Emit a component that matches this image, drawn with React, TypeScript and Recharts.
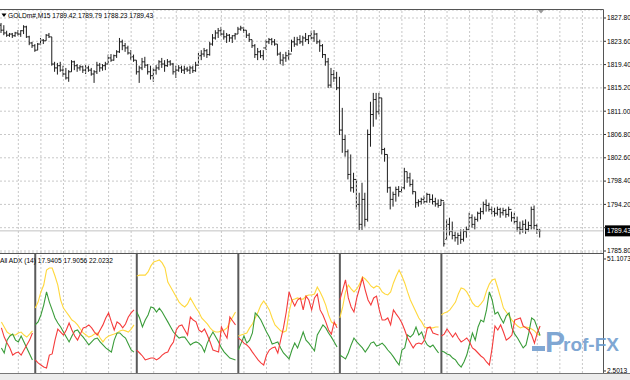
import React from 'react';
import { ComposedChart, LineChart, Bar, Line, XAxis, YAxis, CartesianGrid, ReferenceLine } from 'recharts';

// GOLDm# M15 bars, oldest first
const opens = [
  1826.5, 1825.6, 1825.1, 1824.7, 1824.9, 1824.6, 1825.1, 1824.9, 1825.5, 1826.2, 1824.4, 1823.3,
  1822.8, 1822.0, 1823.1, 1823.8, 1823.7, 1824.7, 1824.4, 1819.5, 1818.8, 1819.2, 1818.4, 1817.7,
  1817.0, 1818.1, 1819.9, 1819.2, 1818.8, 1819.0, 1818.4, 1818.8, 1818.4, 1817.7, 1818.1, 1819.3,
  1818.8, 1819.2, 1819.5, 1820.6, 1820.2, 1821.0, 1821.7, 1823.5, 1822.8, 1822.4, 1821.5, 1820.8,
  1820.2, 1818.1, 1818.8, 1819.9, 1819.3, 1818.1, 1817.4, 1818.4, 1818.8, 1819.9, 1819.5, 1819.2,
  1819.9, 1819.5, 1818.1, 1818.4, 1818.8, 1818.4, 1818.6, 1818.4, 1818.8, 1818.3, 1819.3, 1821.0,
  1821.3, 1821.9, 1821.2, 1823.1, 1824.2, 1825.1, 1825.5, 1824.9, 1824.4, 1824.7, 1824.2, 1824.6,
  1824.9, 1825.8, 1826.0, 1825.6, 1824.7, 1823.9, 1822.8, 1821.2, 1821.7, 1821.0, 1822.4, 1823.5,
  1823.9, 1823.5, 1823.1, 1821.3, 1820.2, 1820.6, 1821.0, 1821.3, 1823.5, 1823.1, 1823.9, 1823.5,
  1824.2, 1823.9, 1824.6, 1824.2, 1824.9, 1823.5, 1822.8, 1821.2, 1819.9, 1815.7, 1817.6, 1817.0,
  1815.2, 1807.6, 1805.9, 1803.7, 1799.6, 1797.2, 1798.7, 1794.2, 1790.6, 1795.1, 1791.5, 1806.8,
  1810.4, 1813.1, 1810.9, 1813.4, 1804.1, 1803.2, 1797.2, 1795.1, 1796.0, 1796.9, 1796.5, 1797.2,
  1800.1, 1799.0, 1797.8, 1796.5, 1794.5, 1794.7, 1795.1, 1794.7, 1796.0, 1795.1, 1794.7, 1794.3,
  1794.0, 1794.9, 1787.9, 1790.6, 1789.3, 1788.6, 1788.2, 1788.6, 1787.9, 1789.3, 1789.7, 1791.8,
  1790.6, 1791.5, 1792.6, 1792.9, 1794.2, 1794.0, 1793.3, 1792.9, 1792.6, 1793.3, 1792.7, 1793.1,
  1792.4, 1793.3, 1791.8, 1791.1, 1790.0, 1789.7, 1790.6, 1789.7, 1790.4, 1793.3, 1790.4, 1789.42,
];
const highs = [
  1826.9, 1826.5, 1825.5, 1825.1, 1825.1, 1825.3, 1825.6, 1825.6, 1826.5, 1826.4, 1824.6, 1823.5,
  1823.1, 1823.3, 1824.2, 1824.0, 1824.9, 1825.1, 1824.4, 1819.9, 1819.7, 1819.9, 1819.2, 1818.8,
  1818.4, 1820.2, 1820.1, 1819.5, 1819.3, 1819.2, 1819.3, 1819.2, 1818.8, 1818.4, 1819.9, 1819.7,
  1819.5, 1819.9, 1821.2, 1821.3, 1821.2, 1822.0, 1824.2, 1823.9, 1823.3, 1822.8, 1822.0, 1821.2,
  1820.2, 1819.2, 1820.6, 1820.8, 1819.5, 1819.2, 1818.8, 1819.3, 1820.2, 1820.6, 1820.2, 1820.4,
  1820.2, 1819.7, 1819.2, 1819.3, 1819.2, 1819.2, 1819.0, 1819.2, 1819.2, 1819.9, 1821.5, 1822.0,
  1822.4, 1822.2, 1823.5, 1824.9, 1825.6, 1826.0, 1826.2, 1825.6, 1825.1, 1824.9, 1824.7, 1825.1,
  1826.2, 1826.4, 1826.2, 1825.6, 1825.1, 1823.9, 1823.1, 1822.4, 1822.0, 1822.0, 1823.9, 1824.2,
  1824.2, 1824.0, 1823.1, 1821.7, 1821.3, 1821.7, 1822.0, 1823.9, 1824.4, 1824.4, 1824.7, 1824.6,
  1825.1, 1824.7, 1825.5, 1825.6, 1825.1, 1823.9, 1823.1, 1821.3, 1820.6, 1818.8, 1818.4, 1818.1,
  1817.2, 1811.6, 1806.7, 1804.1, 1803.2, 1799.9, 1798.7, 1796.3, 1798.1, 1796.3, 1807.7, 1812.7,
  1814.3, 1814.3, 1814.3, 1813.4, 1804.4, 1803.2, 1797.4, 1796.5, 1797.4, 1797.5, 1797.4, 1800.8,
  1800.1, 1799.9, 1798.7, 1796.5, 1795.1, 1795.4, 1795.8, 1796.3, 1796.1, 1796.0, 1795.4, 1795.1,
  1795.2, 1794.7, 1791.5, 1791.8, 1791.1, 1789.3, 1789.1, 1789.7, 1789.7, 1790.2, 1792.7, 1792.4,
  1792.0, 1792.9, 1793.6, 1794.7, 1795.1, 1794.5, 1793.8, 1793.6, 1793.8, 1793.6, 1793.6, 1793.4,
  1793.8, 1792.9, 1792.7, 1792.0, 1791.1, 1791.3, 1791.5, 1791.1, 1793.8, 1794.0, 1790.7, 1789.79,
];
const lows = [
  1825.1, 1824.7, 1824.4, 1824.4, 1824.2, 1824.4, 1824.6, 1824.4, 1824.9, 1824.2, 1822.9, 1822.4,
  1821.7, 1822.0, 1822.9, 1823.1, 1823.7, 1824.2, 1819.2, 1818.1, 1817.6, 1818.1, 1817.2, 1816.7,
  1816.3, 1818.1, 1818.4, 1818.1, 1818.3, 1817.9, 1817.7, 1818.1, 1817.4, 1816.1, 1817.7, 1818.1,
  1818.3, 1818.4, 1819.5, 1819.9, 1820.1, 1820.6, 1821.5, 1822.0, 1821.7, 1821.2, 1820.2, 1819.9,
  1817.6, 1816.1, 1818.4, 1818.8, 1817.6, 1816.7, 1816.3, 1817.6, 1818.4, 1818.8, 1818.1, 1819.0,
  1819.2, 1817.6, 1817.0, 1818.1, 1817.9, 1817.7, 1818.1, 1817.7, 1817.9, 1818.1, 1819.2, 1820.2,
  1820.8, 1820.6, 1821.0, 1822.8, 1823.9, 1824.2, 1824.6, 1823.9, 1823.3, 1823.5, 1823.3, 1823.9,
  1824.9, 1825.5, 1825.1, 1824.2, 1823.5, 1822.4, 1820.6, 1820.2, 1820.6, 1820.2, 1822.0, 1823.1,
  1822.9, 1822.8, 1821.0, 1819.5, 1819.2, 1819.9, 1820.2, 1821.7, 1822.6, 1822.8, 1823.1, 1822.8,
  1823.5, 1823.1, 1823.9, 1823.5, 1823.1, 1821.7, 1820.6, 1819.2, 1815.2, 1815.2, 1816.3, 1814.8,
  1806.7, 1803.5, 1802.8, 1798.7, 1796.5, 1796.3, 1793.3, 1789.6, 1789.6, 1790.2, 1791.1, 1804.6,
  1808.2, 1809.5, 1810.4, 1803.2, 1801.9, 1796.3, 1793.3, 1793.8, 1794.7, 1795.6, 1796.3, 1796.9,
  1798.1, 1797.4, 1796.0, 1793.6, 1793.8, 1794.2, 1794.3, 1794.5, 1794.5, 1794.2, 1793.8, 1793.6,
  1794.0, 1786.6, 1787.9, 1788.6, 1787.9, 1787.5, 1786.9, 1787.1, 1787.5, 1788.2, 1789.7, 1790.0,
  1789.7, 1791.1, 1791.5, 1792.4, 1792.9, 1792.9, 1792.4, 1792.0, 1792.2, 1791.8, 1792.2, 1791.8,
  1792.0, 1791.1, 1790.6, 1789.3, 1788.8, 1789.1, 1788.9, 1789.3, 1789.7, 1789.7, 1788.9, 1788.23,
];
const closes = [
  1825.6, 1825.1, 1824.7, 1824.9, 1824.6, 1825.1, 1824.9, 1825.5, 1826.2, 1824.4, 1823.3, 1822.8,
  1822.0, 1823.1, 1823.8, 1823.7, 1824.7, 1824.4, 1819.5, 1818.8, 1819.2, 1818.4, 1817.7, 1817.0,
  1818.1, 1819.9, 1819.2, 1818.8, 1819.0, 1818.4, 1818.8, 1818.4, 1817.7, 1818.1, 1819.3, 1818.8,
  1819.2, 1819.5, 1820.6, 1820.2, 1821.0, 1821.7, 1823.5, 1822.8, 1822.4, 1821.5, 1820.8, 1820.2,
  1818.1, 1818.8, 1819.9, 1819.3, 1818.1, 1817.4, 1818.4, 1818.8, 1819.9, 1819.5, 1819.2, 1819.9,
  1819.5, 1818.1, 1818.4, 1818.8, 1818.4, 1818.6, 1818.4, 1818.8, 1818.3, 1819.3, 1821.0, 1821.3,
  1821.9, 1821.2, 1823.1, 1824.2, 1825.1, 1825.5, 1824.9, 1824.4, 1824.7, 1824.2, 1824.6, 1824.9,
  1825.8, 1826.0, 1825.6, 1824.7, 1823.9, 1822.8, 1821.2, 1821.7, 1821.0, 1822.4, 1823.5, 1823.9,
  1823.5, 1823.1, 1821.3, 1820.2, 1820.6, 1821.0, 1821.3, 1823.5, 1823.1, 1823.9, 1823.5, 1824.2,
  1823.9, 1824.6, 1824.2, 1824.9, 1823.5, 1822.8, 1821.2, 1819.9, 1815.7, 1817.6, 1817.0, 1815.2,
  1807.6, 1805.9, 1803.7, 1799.6, 1797.2, 1798.7, 1794.2, 1790.6, 1795.1, 1791.5, 1806.8, 1810.4,
  1813.1, 1810.9, 1813.4, 1804.1, 1803.2, 1797.2, 1795.1, 1796.0, 1796.9, 1796.5, 1797.2, 1800.1,
  1799.0, 1797.8, 1796.5, 1794.5, 1794.7, 1795.1, 1794.7, 1796.0, 1795.1, 1794.7, 1794.3, 1794.0,
  1794.9, 1787.1, 1790.6, 1789.3, 1788.6, 1788.2, 1788.6, 1787.9, 1789.3, 1789.7, 1791.8, 1790.6,
  1791.5, 1792.6, 1792.9, 1794.2, 1794.0, 1793.3, 1792.9, 1792.6, 1793.3, 1792.7, 1793.1, 1792.4,
  1793.3, 1791.8, 1791.1, 1790.0, 1789.7, 1790.6, 1789.7, 1790.4, 1793.3, 1790.4, 1789.7, 1789.43,
];

// All ADX (14): ADX, +DI, -DI, drawn in 36-bar windows
const adxLine = [
  23.8, 21.6, 19.4, 18.5, 18.1, 18.1, 19.0, 19.4, 18.1, 17.2, 18.5, 19.9,
  29.8, 32.4, 36.8, 39.8, 46.3, 47.2, 47.2, 43.7, 39.8, 33.3, 29.8, 28.1,
  26.4, 24.6, 23.8, 22.5, 20.7, 19.0, 18.1, 17.2, 17.7, 18.5, 19.0, 16.8,
  15.1, 16.8, 17.7, 18.1, 18.5, 19.0, 19.9, 20.3, 19.9, 19.4, 20.7, 22.5,
  43.7, 44.1, 44.1, 44.1, 45.5, 48.1, 49.8, 50.2, 50.7, 49.4, 47.2, 41.1,
  38.9, 36.8, 34.6, 32.4, 31.1, 30.3, 31.6, 34.2, 32.0, 29.8, 28.1, 25.5,
  24.2, 22.9, 21.2, 19.9, 19.4, 19.4, 19.9, 20.3, 21.2, 23.8, 25.9, 28.1,
  17.7, 18.1, 18.5, 19.0, 21.2, 22.9, 25.5, 28.1, 31.1, 32.9, 31.1, 29.0,
  25.5, 22.5, 21.2, 19.9, 19.4, 19.9, 28.1, 33.3, 33.7, 34.2, 33.7, 33.7,
  35.0, 35.5, 35.5, 35.9, 38.9, 36.8, 34.2, 31.1, 26.8, 23.8, 22.9, 22.5,
  25.5, 30.3, 36.8, 39.8, 38.1, 36.8, 38.1, 40.2, 43.3, 42.4, 41.1, 39.4,
  38.5, 39.4, 38.9, 36.8, 35.9, 35.5, 36.8, 40.7, 43.7, 46.3, 43.7, 40.7,
  36.8, 33.3, 30.7, 28.1, 25.5, 23.8, 21.6, 21.2, 21.2, 21.2, 21.6, 21.6,
  26.8, 27.7, 28.1, 29.0, 30.7, 32.4, 35.9, 38.5, 38.1, 36.8, 34.6, 32.0,
  30.7, 30.3, 31.6, 33.3, 37.2, 40.2, 42.0, 42.4, 38.5, 34.2, 29.8, 28.1,
  26.4, 24.6, 23.3, 22.0, 21.2, 21.6, 21.6, 21.2, 20.7, 19.9, 18.5, 17.9405,
];
const plusDi = [
  12.5, 10.3, 15.9, 17.7, 18.5, 15.9, 15.1, 17.7, 15.1, 12.5, 9.9, 7.3,
  22.5, 23.8, 26.8, 31.1, 36.8, 32.4, 29.0, 25.5, 23.3, 21.6, 19.4, 17.2,
  15.1, 17.7, 19.9, 20.3, 18.5, 17.2, 15.5, 13.8, 15.1, 16.4, 16.8, 15.1,
  13.8, 12.5, 11.6, 10.7, 15.9, 19.0, 19.0, 17.7, 16.8, 14.2, 11.6, 10.7,
  28.1, 25.5, 21.6, 24.6, 26.8, 30.3, 29.8, 28.1, 29.8, 28.1, 25.9, 23.8,
  21.6, 19.4, 18.1, 16.8, 17.2, 17.2, 15.5, 13.8, 14.6, 15.1, 14.6, 13.3,
  10.7, 14.6, 17.2, 19.4, 17.2, 15.1, 12.5, 10.7, 9.4, 8.1, 7.7, 7.3,
  11.6, 14.6, 17.7, 14.6, 15.9, 19.0, 27.7, 26.4, 24.6, 22.0, 19.4, 17.2,
  14.2, 14.6, 15.1, 12.5, 10.3, 9.0, 7.7, 11.6, 14.6, 12.5, 15.9, 19.4,
  15.9, 14.6, 12.9, 11.2, 18.1, 20.3, 22.5, 21.2, 19.0, 17.2, 15.1, 12.9,
  9.4, 8.6, 7.7, 10.3, 13.8, 16.8, 15.1, 13.8, 12.5, 10.7, 12.5, 14.6,
  15.1, 13.3, 13.8, 14.6, 13.3, 11.6, 10.3, 8.6, 6.8, 5.1, 11.6, 12.5,
  18.1, 17.2, 18.5, 21.6, 18.1, 19.4, 15.9, 13.8, 12.9, 13.8, 12.0, 10.3,
  11.2, 10.7, 9.9, 9.4, 8.1, 7.3, 5.5, 4.2, 6.4, 9.4, 14.2, 19.0,
  15.9, 21.6, 24.6, 23.8, 29.0, 36.8, 33.3, 27.2, 28.1, 25.5, 23.3, 26.4,
  27.7, 21.2, 18.5, 16.8, 14.6, 12.5, 13.8, 19.0, 25.5, 24.6, 21.2, 17.9056,
];
const minusDi = [
  21.2, 17.2, 14.6, 12.5, 9.4, 10.3, 10.7, 9.4, 11.6, 13.8, 15.9, 19.0,
  7.3, 6.0, 5.1, 4.2, 3.8, 9.4, 9.9, 15.9, 20.7, 19.4, 18.1, 20.3,
  23.3, 20.3, 17.7, 15.9, 18.5, 21.2, 21.6, 22.5, 21.2, 19.4, 18.1, 20.3,
  22.5, 25.5, 27.7, 23.8, 20.3, 23.8, 22.9, 21.2, 22.9, 25.9, 27.7, 29.0,
  11.6, 10.3, 9.0, 7.3, 7.7, 8.1, 8.1, 7.3, 8.1, 9.4, 10.3, 10.7,
  13.3, 15.1, 20.3, 22.0, 22.5, 20.3, 18.1, 25.9, 24.6, 23.8, 20.3, 19.4,
  20.7, 18.1, 15.1, 11.6, 11.2, 10.7, 21.6, 19.0, 16.8, 25.9, 24.2, 22.5,
  16.8, 15.9, 14.6, 13.8, 12.5, 10.7, 9.0, 7.3, 6.0, 5.1, 9.4, 11.6,
  12.5, 12.9, 10.3, 15.9, 21.2, 28.1, 36.8, 33.3, 30.7, 33.3, 34.2, 29.0,
  35.0, 33.3, 29.0, 34.2, 35.9, 29.0, 26.8, 23.8, 20.3, 18.5, 23.8, 21.2,
  33.3, 37.6, 42.0, 34.2, 30.3, 28.1, 34.2, 38.5, 42.8, 37.6, 33.3, 31.1,
  34.2, 35.0, 29.0, 24.6, 24.6, 25.5, 22.5, 29.0, 27.2, 25.5, 23.3, 20.3,
  16.8, 14.6, 12.5, 14.2, 14.6, 14.2, 15.9, 21.2, 21.6, 19.0, 18.5, 18.1,
  17.7, 18.5, 20.7, 19.0, 17.2, 19.0, 16.8, 15.1, 15.9, 16.8, 15.1, 12.5,
  11.6, 10.3, 9.0, 8.1, 6.4, 5.1, 12.5, 22.0, 20.3, 22.5, 19.4, 15.9,
  16.8, 18.1, 24.6, 25.1, 25.5, 22.0, 21.2, 20.3, 18.1, 14.6, 19.0, 22.0232,
];

const windowStarts = [12, 48, 84, 120, 156];
const priceTicks = [1785.8, 1790.0, 1794.2, 1798.4, 1802.6, 1806.8, 1811.0, 1815.2, 1819.4, 1823.6, 1827.8];
const adxTicks = [2.5013, 51.1073];
const gridBars = Array.from({ length: 26 }, (_, k) => 6 + k * 8);

const xDomain: [number, number] = [-0.5, 213.3];
const font = '"Liberation Sans", Arial, sans-serif';
const last = closes.length - 1;

const bars = highs.map((h, i) => ({
  i,
  open: opens[i],
  high: h,
  low: lows[i],
  close: closes[i],
  range: [lows[i], h],
}));

const windowOf = (i: number) => windowStarts.filter((s) => i >= s).length;
const adxRows = adxLine.map((v, i) => {
  const k = windowOf(i) % 2 === 0 ? 'a' : 'b';
  return { i, ['adx' + k]: v, ['pdi' + k]: plusDi[i], ['mdi' + k]: minusDi[i] };
});

const OhlcBar = (props: any) => {
  const { x, y, width, height, payload } = props;
  if (x == null || y == null || !payload) return null;
  const top = Math.min(y, y + height);
  const h = Math.abs(height);
  const span = payload.high - payload.low || 1;
  const cx = x + width / 2;
  const yo = top + ((payload.high - payload.open) / span) * h;
  const yc = top + ((payload.high - payload.close) / span) * h;
  return (
    <g stroke="#1c1c1c" strokeWidth={1}>
      <line x1={cx} x2={cx} y1={top} y2={top + Math.max(h, 1)} />
      <line x1={cx - 1.4} x2={cx} y1={yo} y2={yo} />
      <line x1={cx} x2={cx + 1.4} y1={yc} y2={yc} />
    </g>
  );
};

const axisTick = { fontSize: 6.6, fill: '#000', fontFamily: font };

// the last-price tag covers the 1790.00 label, as in the terminal
const priceLabel = (v: number) => (Math.abs(v - closes[last]) < 1 ? '' : v.toFixed(2));

const PriceTag = (props: any) => {
  const vb = props.viewBox;
  if (!vb) return null;
  const x = vb.x + vb.width + 2;
  return (
    <g>
      <rect x={x} y={vb.y - 5.5} width={26} height={11} fill="#000" />
      <text x={x + 2} y={vb.y + 2.5} fill="#fff" fontSize={6.6} fontFamily={font}>
        {closes[last].toFixed(2)}
      </text>
    </g>
  );
};

export default function App() {
  const title = `GOLDm#,M15  ${opens[last].toFixed(2)} ${highs[last].toFixed(2)} ${lows[last].toFixed(2)} ${closes[last].toFixed(2)}`;
  const adxTitle = `All ADX (14) ${adxLine[last].toFixed(4)} ${plusDi[last].toFixed(4)} ${minusDi[last].toFixed(4)}`;

  return (
    <div style={{ position: 'absolute', left: 0, top: 0, width: 630, height: 380, background: '#fff', overflow: 'hidden', fontFamily: font }}>
      <div style={{ position: 'absolute', left: 0, top: 0 }}>
        <ComposedChart width={630} height={254} data={bars} margin={{ top: 10, right: 0, bottom: 1, left: 0 }}>
          <CartesianGrid vertical={false} stroke="#c8c8c8" strokeDasharray="2 2" />
          <XAxis dataKey="i" type="number" domain={xDomain} allowDataOverflow hide />
          <YAxis
            orientation="right"
            width={27}
            domain={[1785.44, 1829.24]}
            allowDataOverflow
            ticks={priceTicks}
            interval={0}
            tickSize={3}
            tickMargin={1}
            axisLine={false}
            tickLine={{ stroke: '#333' }}
            tick={axisTick}
            tickFormatter={priceLabel}
          />
          {gridBars.map((g) => (
            <ReferenceLine key={g} x={g} stroke="#c8c8c8" strokeDasharray="2 2" />
          ))}
          <ReferenceLine y={closes[last]} stroke="#c2c2c2" label={<PriceTag />} />
          <Bar dataKey="range" barSize={2} shape={<OhlcBar />} isAnimationActive={false} />
        </ComposedChart>
      </div>

      <div style={{ position: 'absolute', left: 0, top: 253 }}>
        <LineChart width={630} height={121} data={adxRows} margin={{ top: 0, right: 0, bottom: 1, left: 0 }}>
          <XAxis dataKey="i" type="number" domain={xDomain} allowDataOverflow hide />
          <YAxis
            orientation="right"
            width={27}
            domain={[1.62, 53.7]}
            allowDataOverflow
            ticks={adxTicks}
            interval={0}
            tickSize={3}
            tickMargin={1}
            axisLine={false}
            tickLine={{ stroke: '#333' }}
            tick={axisTick}
            tickFormatter={(v: number) => v.toFixed(4)}
          />
          {gridBars.map((g) => (
            <ReferenceLine key={g} x={g} stroke="#c8c8c8" strokeDasharray="2 2" />
          ))}
          {windowStarts.map((s) => (
            <ReferenceLine key={'w' + s} x={s} stroke="#5a5a5a" strokeWidth={2} />
          ))}
          <Line dataKey="adxa" stroke="#ffd83d" strokeWidth={1.1} dot={false} isAnimationActive={false} />
          <Line dataKey="adxb" stroke="#ffd83d" strokeWidth={1.1} dot={false} isAnimationActive={false} />
          <Line dataKey="pdia" stroke="#3a9c3a" strokeWidth={1.1} dot={false} isAnimationActive={false} />
          <Line dataKey="pdib" stroke="#3a9c3a" strokeWidth={1.1} dot={false} isAnimationActive={false} />
          <Line dataKey="mdia" stroke="#f53c3c" strokeWidth={1.1} dot={false} isAnimationActive={false} />
          <Line dataKey="mdib" stroke="#f53c3c" strokeWidth={1.1} dot={false} isAnimationActive={false} />
        </LineChart>
      </div>

      <svg width={630} height={380} style={{ position: 'absolute', left: 0, top: 0, pointerEvents: 'none' }}>
        <line x1={0} x2={603.5} y1={9.5} y2={9.5} stroke="#555" />
        <line x1={603.5} x2={603.5} y1={9.5} y2={373.5} stroke="#555" />
        <line x1={0} x2={603.5} y1={253.5} y2={253.5} stroke="#555" />
        <line x1={0} x2={630} y1={373.5} y2={373.5} stroke="#777" />
        <rect x={0} y={374} width={630} height={6} fill="#ececec" />
        <polygon points="538,10 544,10 541,13.5" fill="#999" />
        <polygon points="1.5,13.5 6.5,13.5 4,17" fill="#000" />
        <text x={8} y={18} fontSize={6.6} fill="#000" fontFamily={font}>{title}</text>
        <text x={0} y={263} fontSize={6.6} fill="#000" fontFamily={font}>{adxTitle}</text>
        <g fill="#6a98cc" opacity={0.85} fontFamily={font} fontWeight="bold">
          <rect x={532} y={346} width={13} height={5} />
          <text x={545} y={352} fontSize={30}>P</text>
          <text x={563} y={351} fontSize={19}>rof-FX</text>
        </g>
      </svg>
    </div>
  );
}
